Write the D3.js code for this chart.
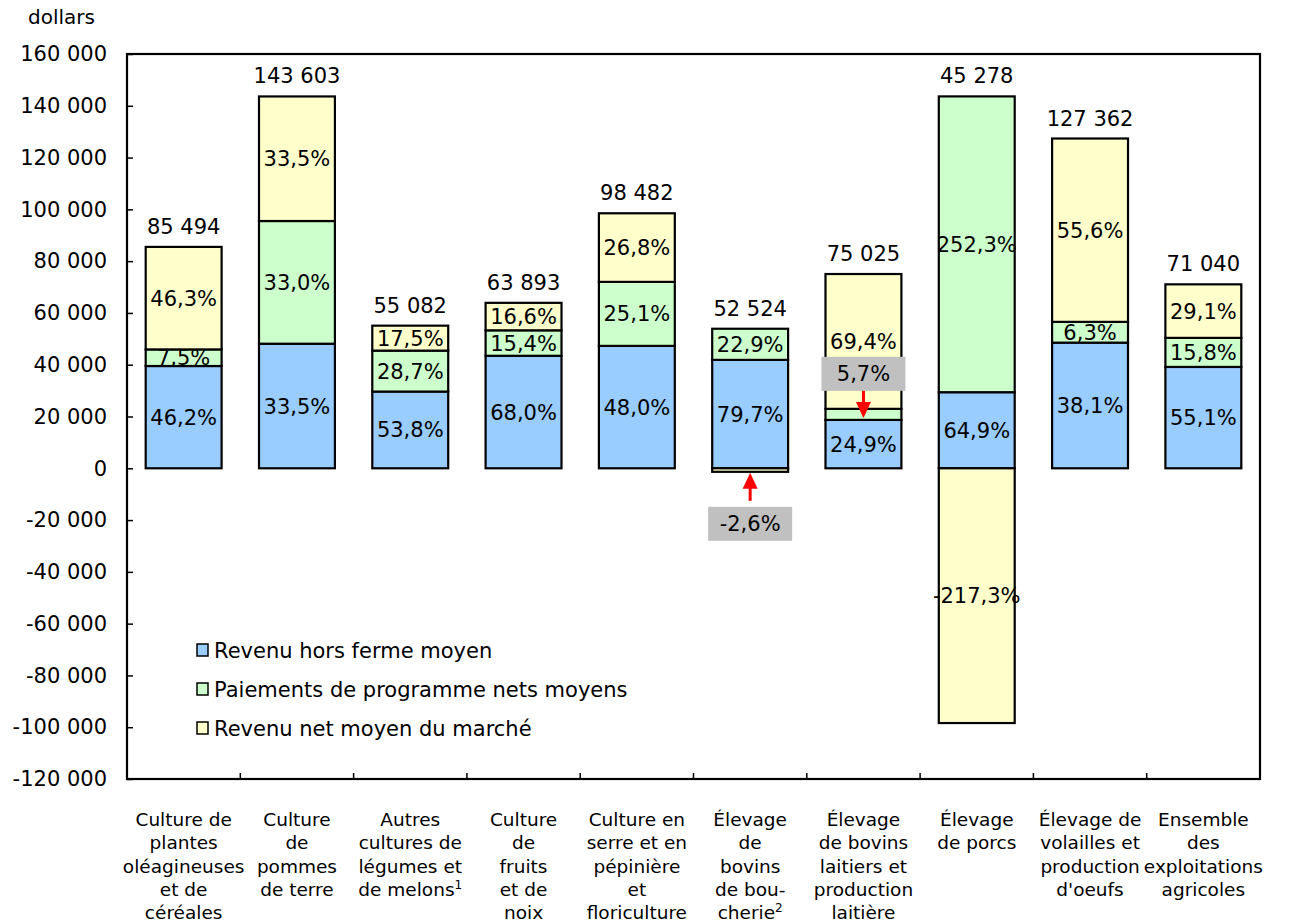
<!DOCTYPE html>
<html>
<head>
<meta charset="utf-8">
<script src="https://cdn.jsdelivr.net/npm/d3@7"></script>
<style>
  body { margin: 0; background: #fff; }
  svg text { font-family: "DejaVu Sans", Verdana, sans-serif; fill: #000; }
</style>
</head>
<body>
<script>
// categories, each one split into the lines shown under the axis
var categories = ["oleag", "pommes", "legumes", "fruits", "serre", "bovins", "laitiers", "porcs", "volailles", "ensemble"];
var categoryLines = [
    ["Culture de", "plantes", "oléagineuses", "et de", "céréales"],
    ["Culture", "de", "pommes", "de terre"],
    ["Autres", "cultures de", "légumes et", "de melons|1"],
    ["Culture", "de", "fruits", "et de", "noix"],
    ["Culture en", "serre et en", "pépinière", "et", "floriculture"],
    ["Élevage", "de", "bovins", "de bou-", "cherie|2"],
    ["Élevage", "de bovins", "laitiers et", "production", "laitière"],
    ["Élevage", "de porcs"],
    ["Élevage de", "volailles et", "production", "d'oeufs"],
    ["Ensemble", "des", "exploitations", "agricoles"]
];

var seriesNames = ["Revenu hors ferme moyen", "Paiements de programme nets moyens", "Revenu net moyen du marché"];
var seriesColors = ["#99ccff", "#ccffcc", "#ffffcc"];

// dollars per segment
var offFarm    = [39498, 48107, 29634, 43447, 47271, 41862, 18681,  29385, 48525, 39143];
var programPay = [ 6412, 47389, 15809,  9840, 24719, 12028,  4276, 114236,  8024, 11224];
var marketNet  = [39584, 48107,  9639, 10606, 26492, -1366, 52067, -98389, 70813, 20673];
var totals     = [85494, 143603, 55082, 63893, 98482, 52524, 75025, 45278, 127362, 71040];

// shares printed in each segment
var offFarmPct    = ["46,2%", "33,5%", "53,8%", "68,0%", "48,0%", "79,7%", "24,9%", "64,9%", "38,1%", "55,1%"];
var programPayPct = ["7,5%", "33,0%", "28,7%", "15,4%", "25,1%", "22,9%", "5,7%", "252,3%", "6,3%", "15,8%"];
var marketNetPct  = ["46,3%", "33,5%", "17,5%", "16,6%", "26,8%", "-2,6%", "69,4%", "-217,3%", "55,6%", "29,1%"];

var yTicks = [-120000, -100000, -80000, -60000, -40000, -20000, 0, 20000, 40000, 60000, 80000, 100000, 120000, 140000, 160000];

var W = 1292, H = 924;
var plotL = 127, plotR = 1260, plotT = 54, plotB = 779;

var locale = d3.formatLocale({decimal: ",", thousands: " ", grouping: [3], currency: ["", " $"], minus: "-"});
var fmt = locale.format(",d");

var svg = d3.select("body").append("svg")
    .attr("width", W)
    .attr("height", H);

var x = d3.scaleBand()
    .domain(categories)
    .range([plotL, plotR])
    .paddingInner(0.33)
    .paddingOuter(0.165);

var y = d3.scaleLinear()
    .domain([-120000, 160000])
    .range([plotB, plotT]);

var rows = categories.map(function(c, i) {
    return {cat: c, a: offFarm[i], b: programPay[i], c: marketNet[i]};
});
var pctRows = [offFarmPct, programPayPct, marketNetPct];

var stack = d3.stack()
    .keys(["a", "b", "c"])
    .offset(d3.stackOffsetDiverging);
var layers = stack(rows);

// y axis: inward ticks, labels on the left
var yAxis = svg.append("g")
    .attr("transform", "translate(" + plotL + ",0)")
    .call(d3.axisLeft(y).tickValues(yTicks).tickFormat(fmt).tickSize(-6).tickPadding(20));
yAxis.select(".domain").remove();
yAxis.selectAll("line").attr("stroke", "#000").attr("stroke-width", 1.5);
yAxis.selectAll("text")
    .attr("font-size", "21px")
    .attr("font-family", "DejaVu Sans, Verdana, sans-serif")
    .attr("fill", "#000");

svg.append("text")
    .attr("x", 28)
    .attr("y", 24)
    .attr("font-size", "20px")
    .text("dollars");

// bars
var segG = svg.selectAll("g.layer")
    .data(layers)
    .enter()
    .append("g")
    .attr("class", "layer")
    .attr("fill", function(d, i) { return seriesColors[i]; });

segG.selectAll("rect")
    .data(function(d) { return d; })
    .enter()
    .append("rect")
    .attr("x", function(d) { return x(d.data.cat); })
    .attr("width", x.bandwidth())
    .attr("y", function(d) { return y(Math.max(d[0], d[1])); })
    .attr("height", function(d) { return Math.abs(y(d[0]) - y(d[1])); })
    .attr("stroke", "#000")
    .attr("stroke-width", 2.2);

// frame drawn over the bars
svg.append("rect")
    .attr("x", plotL)
    .attr("y", plotT)
    .attr("width", plotR - plotL)
    .attr("height", plotB - plotT)
    .attr("fill", "none")
    .attr("stroke", "#000")
    .attr("stroke-width", 2.2);

// category boundary ticks on the bottom
var bounds = categories.slice(1).map(function(c) { return x(c) - x.step() * x.paddingInner() / 2; });
svg.selectAll("line.xtick")
    .data(bounds)
    .enter()
    .append("line")
    .attr("class", "xtick")
    .attr("x1", function(d) { return d; })
    .attr("x2", function(d) { return d; })
    .attr("y1", plotB)
    .attr("y2", plotB - 6)
    .attr("stroke", "#000")
    .attr("stroke-width", 1.5);

// callouts: segments too thin for their label
var callouts = {"5-2": {dir: "up"}, "6-1": {dir: "down"}};

// percentage labels
layers.forEach(function(layer, k) {
    layer.forEach(function(d, i) {
        var key = i + "-" + k;
        var cx = x(d.data.cat) + x.bandwidth() / 2;
        var text = pctRows[k][i];
        if (callouts[key]) {
            var segBot = y(Math.min(d[0], d[1]));
            var boxY, a1, a2;
            if (callouts[key].dir === "up") {
                boxY = segBot + 35;
                a1 = boxY - 6; a2 = segBot + 1;
            } else {
                boxY = y(d[1]) - 52;
                a1 = boxY + 34; a2 = segBot - 2;
            }
            svg.append("rect")
                .attr("x", cx - 42)
                .attr("y", boxY)
                .attr("width", 84)
                .attr("height", 34)
                .attr("fill", "#c0c0c0");
            svg.append("text")
                .attr("x", cx)
                .attr("y", boxY + 17)
                .attr("dy", "0.36em")
                .attr("text-anchor", "middle")
                .attr("font-size", "21px")
                .text(text);
            var dirSign = a2 < a1 ? -1 : 1;
            svg.append("line")
                .attr("x1", cx).attr("x2", cx)
                .attr("y1", a1).attr("y2", a2 - dirSign * 12)
                .attr("stroke", "#ff0000")
                .attr("stroke-width", 3);
            svg.append("path")
                .attr("d", "M" + (cx - 7.5) + "," + (a2 - dirSign * 16) + "L" + (cx + 7.5) + "," + (a2 - dirSign * 16) + "L" + cx + "," + a2 + "Z")
                .attr("fill", "#ff0000");
            return;
        }
        svg.append("text")
            .attr("x", cx)
            .attr("y", (y(d[0]) + y(d[1])) / 2)
            .attr("dy", "0.36em")
            .attr("text-anchor", "middle")
            .attr("font-size", "21px")
            .text(text);
    });
});

// totals over each bar
svg.selectAll("text.total")
    .data(categories)
    .enter()
    .append("text")
    .attr("class", "total")
    .attr("x", function(d) { return x(d) + x.bandwidth() / 2; })
    .attr("y", function(d, i) {
        var topVal = d3.max(layers, function(l) { return Math.max(l[i][0], l[i][1]); });
        return y(topVal) - 13;
    })
    .attr("text-anchor", "middle")
    .attr("font-size", "21px")
    .text(function(d, i) { return fmt(totals[i]); });

// category labels
var catG = svg.selectAll("text.cat")
    .data(categoryLines)
    .enter()
    .append("text")
    .attr("class", "cat")
    .attr("text-anchor", "middle")
    .attr("font-size", "18.5px")
    .attr("x", function(d, i) { return x(categories[i]) + x.bandwidth() / 2; })
    .attr("y", 826);

catG.each(function(lines, i) {
    var t = d3.select(this);
    var cx = x(categories[i]) + x.bandwidth() / 2;
    lines.forEach(function(line, j) {
        var parts = line.split("|");
        t.append("tspan")
            .attr("x", cx)
            .attr("y", 826 + j * 23.3)
            .text(parts[0]);
        if (parts[1]) {
            t.append("tspan")
                .attr("font-size", "12px")
                .attr("dy", "-7")
                .text(parts[1]);
        }
    });
});

// legend
var legend = svg.selectAll("g.legend")
    .data(seriesNames)
    .enter()
    .append("g")
    .attr("class", "legend")
    .attr("transform", function(d, i) { return "translate(197," + (650 + i * 39) + ")"; });

legend.append("rect")
    .attr("x", 0)
    .attr("y", -6)
    .attr("width", 11)
    .attr("height", 12)
    .attr("fill", function(d, i) { return seriesColors[i]; })
    .attr("stroke", "#000")
    .attr("stroke-width", 1.5);

legend.append("text")
    .attr("x", 17)
    .attr("dy", "0.36em")
    .attr("font-size", "21px")
    .text(function(d) { return d; });
</script>
</body>
</html>
